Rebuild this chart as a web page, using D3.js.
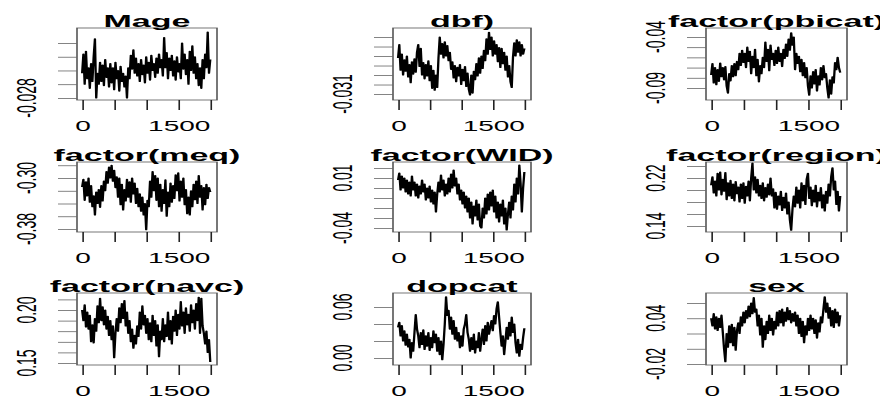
<!DOCTYPE html>
<html><head><meta charset="utf-8">
<script src="https://cdn.jsdelivr.net/npm/d3@7"></script>
<style>
body{margin:0;background:#fff}
svg{display:block}
text{font-family:"Liberation Sans",Arial,Helvetica,sans-serif;fill:#000}
</style></head>
<body>
<svg id="c" width="880" height="400"></svg>
<script>
// ---------- data ----------
const titles = ["Mage","dbf)","factor(pbicat)","factor(meq)","factor(WID)","factor(region)","factor(navc)","dopcat","sex"];
const iterations = d3.range(0, 2001, 20);
const xTicks = [0, 500, 1000, 1500, 2000];
const xTickLabels = [0, 1500];

const mage = [-0.0262,-0.0248,-0.0270,-0.0246,-0.0266,-0.0258,-0.0273,-0.0255,-0.0268,-0.0250,-0.0237,-0.0280,-0.0262,-0.0270,-0.0254,-0.0268,-0.0256,-0.0271,-0.0252,-0.0265,-0.0258,-0.0272,-0.0255,-0.0269,-0.0258,-0.0274,-0.0254,-0.0266,-0.0260,-0.0275,-0.0257,-0.0268,-0.0262,-0.0272,-0.0264,-0.0280,-0.0258,-0.0266,-0.0249,-0.0259,-0.0245,-0.0262,-0.0251,-0.0264,-0.0255,-0.0268,-0.0252,-0.0263,-0.0256,-0.0269,-0.0250,-0.0262,-0.0254,-0.0267,-0.0249,-0.0260,-0.0255,-0.0265,-0.0251,-0.0262,-0.0248,-0.0258,-0.0252,-0.0264,-0.0236,-0.0258,-0.0247,-0.0266,-0.0251,-0.0260,-0.0249,-0.0264,-0.0253,-0.0267,-0.0250,-0.0261,-0.0255,-0.0266,-0.0240,-0.0259,-0.0248,-0.0263,-0.0252,-0.0270,-0.0246,-0.0260,-0.0242,-0.0262,-0.0250,-0.0266,-0.0255,-0.0271,-0.0258,-0.0273,-0.0252,-0.0266,-0.0248,-0.0258,-0.0232,-0.0262,-0.0252];
const dbf = [-0.0272,-0.0258,-0.0285,-0.0268,-0.0290,-0.0274,-0.0286,-0.0270,-0.0292,-0.0279,-0.0298,-0.0276,-0.0289,-0.0273,-0.0287,-0.0266,-0.0258,-0.0281,-0.0262,-0.0290,-0.0277,-0.0294,-0.0279,-0.0291,-0.0275,-0.0296,-0.0280,-0.0304,-0.0285,-0.0306,-0.0290,-0.0303,-0.0272,-0.0250,-0.0268,-0.0257,-0.0272,-0.0255,-0.0270,-0.0259,-0.0275,-0.0266,-0.0284,-0.0276,-0.0293,-0.0280,-0.0297,-0.0282,-0.0291,-0.0279,-0.0300,-0.0284,-0.0296,-0.0281,-0.0302,-0.0288,-0.0305,-0.0311,-0.0290,-0.0309,-0.0286,-0.0295,-0.0278,-0.0291,-0.0272,-0.0288,-0.0270,-0.0283,-0.0264,-0.0275,-0.0252,-0.0268,-0.0245,-0.0263,-0.0250,-0.0270,-0.0254,-0.0268,-0.0258,-0.0276,-0.0261,-0.0282,-0.0262,-0.0278,-0.0266,-0.0285,-0.0270,-0.0292,-0.0280,-0.0297,-0.0303,-0.0271,-0.0256,-0.0270,-0.0253,-0.0266,-0.0255,-0.0270,-0.0258,-0.0268,-0.0262];
const pbicat = [-0.0773,-0.0660,-0.0850,-0.0700,-0.0868,-0.0720,-0.0835,-0.0655,-0.0790,-0.0700,-0.0820,-0.0690,-0.0880,-0.0950,-0.0760,-0.0830,-0.0680,-0.0790,-0.0660,-0.0780,-0.0640,-0.0720,-0.0560,-0.0680,-0.0530,-0.0650,-0.0560,-0.0700,-0.0500,-0.0640,-0.0540,-0.0760,-0.0590,-0.0700,-0.0520,-0.0780,-0.0620,-0.0840,-0.0680,-0.0760,-0.0600,-0.0700,-0.0450,-0.0640,-0.0520,-0.0730,-0.0480,-0.0620,-0.0560,-0.0680,-0.0530,-0.0660,-0.0500,-0.0640,-0.0560,-0.0690,-0.0520,-0.0610,-0.0470,-0.0590,-0.0420,-0.0530,-0.0360,-0.0480,-0.0400,-0.0720,-0.0560,-0.0660,-0.0590,-0.0740,-0.0620,-0.0780,-0.0650,-0.0800,-0.0700,-0.0880,-0.0970,-0.0780,-0.0900,-0.0740,-0.0860,-0.0720,-0.0930,-0.0780,-0.0870,-0.0700,-0.0820,-0.0680,-0.0800,-0.0760,-0.0900,-0.0998,-0.0820,-0.0960,-0.0790,-0.0850,-0.0650,-0.0720,-0.0600,-0.0700,-0.0750];
const meq = [-0.314,-0.302,-0.335,-0.306,-0.328,-0.300,-0.338,-0.312,-0.345,-0.328,-0.358,-0.322,-0.340,-0.318,-0.346,-0.312,-0.336,-0.305,-0.320,-0.290,-0.308,-0.283,-0.300,-0.280,-0.305,-0.288,-0.315,-0.298,-0.330,-0.300,-0.342,-0.310,-0.350,-0.318,-0.336,-0.302,-0.330,-0.306,-0.338,-0.300,-0.325,-0.308,-0.340,-0.316,-0.345,-0.325,-0.352,-0.330,-0.358,-0.340,-0.381,-0.335,-0.345,-0.305,-0.330,-0.290,-0.320,-0.296,-0.335,-0.300,-0.345,-0.310,-0.352,-0.318,-0.340,-0.303,-0.360,-0.322,-0.345,-0.308,-0.338,-0.312,-0.332,-0.295,-0.320,-0.292,-0.336,-0.305,-0.330,-0.300,-0.342,-0.318,-0.356,-0.330,-0.358,-0.320,-0.345,-0.310,-0.334,-0.305,-0.340,-0.296,-0.330,-0.312,-0.350,-0.315,-0.342,-0.310,-0.332,-0.315,-0.322];
const wid = [0.008,0.015,-0.002,0.012,0.000,0.010,-0.004,0.008,-0.006,0.006,-0.008,0.012,-0.002,0.006,-0.008,0.004,-0.010,0.002,-0.006,0.008,-0.004,0.004,-0.012,0.000,-0.010,0.002,-0.014,-0.002,-0.016,-0.004,-0.024,-0.006,0.006,-0.004,0.013,-0.002,0.008,-0.008,0.004,-0.006,0.010,-0.004,0.014,0.000,0.018,0.002,0.010,-0.006,0.004,-0.012,-0.002,-0.016,-0.004,-0.020,-0.008,-0.024,-0.010,-0.030,-0.014,-0.036,-0.018,-0.028,-0.012,-0.032,-0.016,-0.038,-0.040,-0.020,-0.030,-0.010,-0.026,-0.006,-0.022,-0.004,-0.018,-0.002,-0.024,-0.008,-0.030,-0.014,-0.034,-0.016,-0.028,-0.012,-0.036,-0.020,-0.042,-0.026,-0.014,-0.030,-0.008,-0.022,0.004,-0.014,0.010,-0.006,0.023,0.005,-0.024,0.000,0.016];
const region = [0.208,0.222,0.195,0.215,0.190,0.228,0.200,0.230,0.192,0.218,0.198,0.229,0.184,0.212,0.190,0.216,0.186,0.210,0.182,0.214,0.194,0.205,0.180,0.210,0.186,0.212,0.178,0.206,0.190,0.215,0.182,0.220,0.245,0.200,0.222,0.195,0.218,0.190,0.208,0.186,0.212,0.182,0.204,0.188,0.210,0.192,0.220,0.190,0.202,0.170,0.196,0.168,0.190,0.175,0.198,0.166,0.188,0.170,0.195,0.160,0.180,0.150,0.133,0.168,0.190,0.172,0.205,0.178,0.200,0.170,0.212,0.182,0.208,0.176,0.218,0.228,0.186,0.205,0.174,0.200,0.180,0.208,0.172,0.196,0.182,0.204,0.170,0.192,0.165,0.198,0.178,0.210,0.190,0.222,0.237,0.200,0.215,0.176,0.198,0.165,0.190];
const navc = [0.200,0.190,0.205,0.184,0.198,0.182,0.195,0.170,0.186,0.169,0.192,0.180,0.204,0.188,0.211,0.190,0.203,0.186,0.200,0.182,0.194,0.176,0.190,0.172,0.185,0.155,0.178,0.192,0.180,0.202,0.188,0.206,0.192,0.209,0.185,0.198,0.178,0.190,0.170,0.182,0.164,0.176,0.168,0.185,0.175,0.198,0.182,0.204,0.186,0.195,0.178,0.192,0.172,0.188,0.170,0.195,0.176,0.190,0.166,0.186,0.156,0.180,0.172,0.192,0.170,0.186,0.175,0.198,0.172,0.190,0.168,0.194,0.180,0.200,0.176,0.196,0.182,0.208,0.185,0.198,0.178,0.202,0.186,0.196,0.180,0.205,0.188,0.200,0.182,0.206,0.190,0.212,0.178,0.211,0.185,0.178,0.168,0.180,0.160,0.172,0.151];
const dopcat = [0.036,0.042,0.026,0.038,0.020,0.032,0.015,0.028,0.013,0.022,0.000,0.018,0.008,0.030,0.051,0.034,0.026,0.012,0.030,0.016,0.033,0.010,0.026,0.014,0.030,0.009,0.024,0.012,0.032,0.018,0.028,0.008,0.024,0.004,0.020,-0.002,0.016,0.040,0.072,0.050,0.056,0.034,0.048,0.028,0.044,0.022,0.036,0.020,0.030,0.012,0.026,0.014,0.034,0.040,0.051,0.030,0.022,0.008,0.024,0.010,0.028,0.006,0.020,0.012,0.030,0.008,0.022,0.034,0.016,0.038,0.020,0.042,0.028,0.036,0.044,0.032,0.050,0.040,0.058,0.066,0.048,0.030,0.014,0.026,0.004,0.020,0.036,0.022,0.042,0.026,0.048,0.030,0.040,0.018,0.006,0.022,0.002,0.016,0.010,0.024,0.035];
const sex = [0.040,0.030,0.046,0.026,0.042,0.024,0.040,0.028,0.044,0.022,0.000,-0.017,0.020,0.002,0.030,0.008,0.032,0.004,0.028,-0.002,0.024,0.034,0.020,0.042,0.030,0.048,0.034,0.050,0.040,0.056,0.042,0.060,0.046,0.067,0.048,0.052,0.030,0.044,0.018,0.040,0.002,0.030,0.012,0.036,0.020,0.044,0.024,0.040,0.018,0.036,0.026,0.048,0.030,0.050,0.034,0.052,0.030,0.048,0.036,0.054,0.038,0.050,0.034,0.046,0.036,0.048,0.030,0.044,0.020,0.040,0.016,0.036,0.008,0.030,0.018,0.040,0.024,0.044,0.026,0.040,0.020,0.038,0.014,0.034,0.022,0.042,0.034,0.052,0.068,0.048,0.060,0.040,0.054,0.030,0.050,0.028,0.052,0.034,0.048,0.030,0.044];

const seriesList = [mage, dbf, pbicat, meq, wid, region, navc, dopcat, sex];
const yDomains = [[-0.02815,-0.02291],[-0.03163,-0.02405],[-0.1018,-0.0312],[-0.3847,-0.2749],[-0.044,0.026],[0.13,0.2467],[0.14811,0.21604],[-0.00824,0.07647],[-0.02131,0.07311]];
const yTickValues = [
  [-0.028,-0.027,-0.026,-0.025,-0.024],
  [-0.031,-0.030,-0.029,-0.028,-0.027,-0.026,-0.025],
  [-0.09,-0.08,-0.07,-0.06,-0.05,-0.04],
  [-0.38,-0.36,-0.34,-0.32,-0.30,-0.28],
  [-0.04,-0.03,-0.02,-0.01,0.00,0.01,0.02],
  [0.14,0.16,0.18,0.20,0.22,0.24],
  [0.15,0.16,0.17,0.18,0.19,0.20,0.21],
  [0.00,0.02,0.04,0.06],
  [-0.02,0.00,0.02,0.04,0.06]
];
const yTickLabels = [
  [[-0.028,"-0.028"]],
  [[-0.031,"-0.031"]],
  [[-0.09,"-0.09"],[-0.04,"-0.04"]],
  [[-0.38,"-0.38"],[-0.30,"-0.30"]],
  [[-0.04,"-0.04"],[0.01,"0.01"]],
  [[0.14,"0.14"],[0.22,"0.22"]],
  [[0.15,"0.15"],[0.20,"0.20"]],
  [[0.00,"0.00"],[0.06,"0.06"]],
  [[-0.02,"-0.02"],[0.04,"0.04"]]
];

// ---------- layout ----------
const SX = 2;                 // horizontal stretch of the whole picture
const cols = [[77,217],[393,531],[706,847]];
const rows = [[28,100],[162,232],[293,365]];
const xDomain = [-80, 2105];
const ink = "#222";

const svg = d3.select("#c");
const g = svg.append("g").attr("transform", `scale(${SX},1)`);

seriesList.forEach((vals, k) => {
  const c = cols[k % 3], r = rows[Math.floor(k / 3)];
  const x = d3.scaleLinear().domain(xDomain).range([c[0] / SX, c[1] / SX]);
  const y = d3.scaleLinear().domain(yDomains[k]).range([r[1], r[0]]);
  const pg = g.append("g");

  // trace
  pg.append("path")
    .datum(vals)
    .attr("fill", "none")
    .attr("stroke", "#000")
    .attr("stroke-width", 1.15)
    .attr("stroke-linejoin", "round")
    .attr("d", d3.line().x((d, i) => x(iterations[i])).y(d => y(d)));

  // box
  pg.append("rect")
    .attr("x", c[0] / SX).attr("y", r[0])
    .attr("width", (c[1] - c[0]) / SX).attr("height", r[1] - r[0])
    .attr("fill", "none").attr("stroke", "#555").attr("stroke-width", 0.8);

  // x axis
  const xa = pg.append("g").attr("transform", `translate(0,${r[1]})`)
    .call(d3.axisBottom(x).tickValues(xTicks).tickSize(10).tickPadding(11)
      .tickFormat(d => xTickLabels.includes(d) ? d : ""));
  xa.select(".domain").remove();
  xa.selectAll("line").attr("stroke", ink).attr("stroke-width", 0.8);
  xa.selectAll("text").attr("font-size", 14).style("font-family", '"Liberation Sans",Arial,sans-serif').attr("fill", "#000");

  // y axis
  const ya = pg.append("g").attr("transform", `translate(${c[0] / SX},0)`)
    .call(d3.axisLeft(y).tickValues(yTickValues[k]).tickSize(19 / SX).tickFormat(""));
  ya.select(".domain").remove();
  ya.selectAll("line").attr("stroke", "#666").attr("stroke-width", 0.8);

  // y labels (rotated, as R draws them)
  yTickLabels[k].forEach(([v, t]) => {
    pg.append("text")
      .attr("transform", `translate(${(c[0] - 51) / SX},${y(v)}) rotate(-90)`)
      .attr("text-anchor", "middle")
      .attr("dy", "0.35em")
      .attr("font-size", 14)
      .text(t);
  });

  // title
  pg.append("text")
    .attr("x", (c[0] + c[1]) / 2 / SX)
    .attr("y", r[0] - 1)
    .attr("text-anchor", "middle")
    .attr("font-size", 17)
    .attr("font-weight", "bold")
    .text(titles[k]);
});
</script>
</body></html>
